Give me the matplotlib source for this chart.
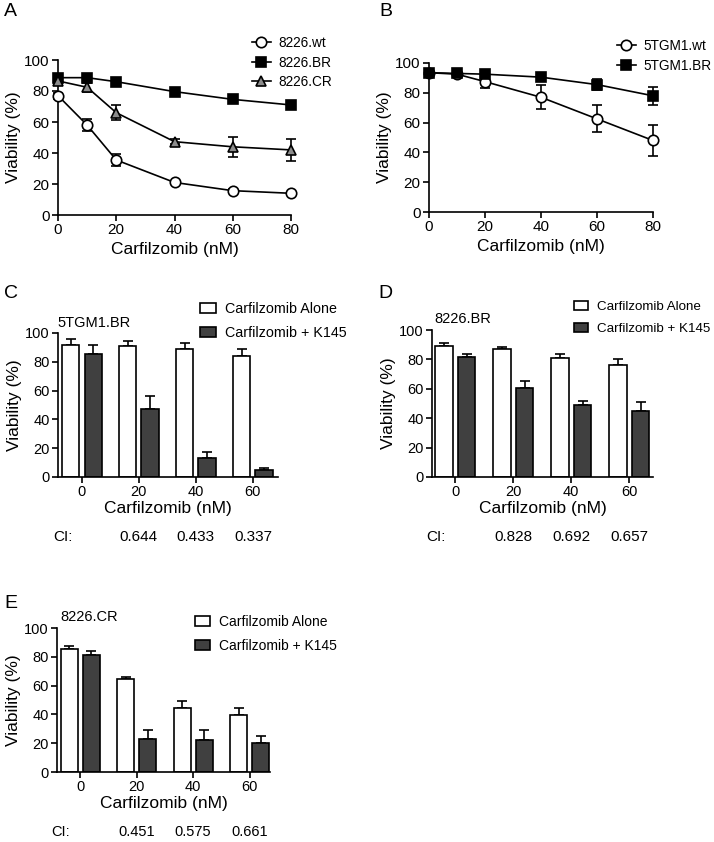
import matplotlib
matplotlib.use('Agg')
import matplotlib.pyplot as plt
from matplotlib.lines import Line2D
import numpy as np

plt.rcParams['font.family'] = ['Liberation Sans', 'DejaVu Sans']
plt.rcParams['axes.linewidth'] = 1.2

# ---- data ----
dose_line = [0, 10, 20, 40, 60, 80]

wt_8226 = [77, 58, 35.5, 21, 15.7, 14]
wt_8226_err = [2, 4, 4, 1, 1, 1]
br_8226 = [88.6, 88.6, 86, 79.6, 74.6, 71]
br_8226_err = [1, 1, 1, 1, 1, 1]
cr_8226 = [86.5, 82.4, 66, 47.3, 44, 42]
cr_8226_err = [1.5, 3, 5, 1.5, 6.5, 7]

wt_5tgm1 = [93.5, 92.5, 87.5, 77, 62.5, 48]
wt_5tgm1_err = [1, 1, 4, 8, 9, 10.5]
br_5tgm1 = [93.5, 93, 92.5, 90.5, 85.5, 78]
br_5tgm1_err = [1, 1, 1, 2, 3.5, 6]

dose_bar = ['0', '20', '40', '60']

c_alone = [92, 91.2, 89, 84]
c_alone_err = [3.5, 3.5, 4, 4.6]
c_k145 = [85.6, 47.2, 13.5, 4.6]
c_k145_err = [5.8, 9.3, 4, 1.6]
c_ci = ['0.644', '0.433', '0.337']

d_alone = [89.3, 86.8, 80.7, 76]
d_alone_err = [1.6, 1.4, 2.7, 4.5]
d_k145 = [81.8, 60.7, 49.3, 45]
d_k145_err = [1.8, 4.8, 2.3, 5.7]
d_ci = ['0.828', '0.692', '0.657']

e_alone = [85.3, 64.7, 44.2, 39.5]
e_alone_err = [1.9, 1.6, 5.1, 4.9]
e_k145 = [81.4, 22.6, 21.9, 20.2]
e_k145_err = [2.3, 6.5, 7, 4.7]
e_ci = ['0.451', '0.575', '0.661']

W, H = 714, 842
fig = plt.figure(figsize=(W / 100, H / 100), dpi=100)


def px_axes(left, top, right, bottom):
    return fig.add_axes([left / W, 1 - bottom / H, (right - left) / W, (bottom - top) / H])


def style(ax, ticksize):
    for s in ['top', 'right']:
        ax.spines[s].set_visible(False)
    ax.tick_params(labelsize=ticksize, width=1.2, length=4, pad=2)
    ax.set_ylim(0, 100)
    ax.set_yticks([0, 20, 40, 60, 80, 100])


def line_panel(ax, series, legend_xy):
    handles = []
    for y, err, marker, face, label in series:
        ax.errorbar(dose_line, y, yerr=err, fmt='-' + marker, color='black', mfc=face,
                    mec='black', ms=7.5, mew=1.2, lw=1.2, capsize=3.5, elinewidth=1.2,
                    capthick=1.2, clip_on=False, zorder=3)
        handles.append(Line2D([], [], color='black', lw=1.2, marker=marker, mfc=face,
                              mec='black', ms=7.5, mew=1.2, label=label))
    style(ax, 11)
    ax.set_xlim(0, 80)
    ax.set_xticks([0, 20, 40, 60, 80])
    ax.set_xlabel('Carfilzomib (nM)', fontsize=12.5, labelpad=3)
    ax.set_ylabel('Viability (%)', fontsize=12.5, labelpad=2)
    ax.legend(handles=handles, loc='upper left',
              bbox_to_anchor=(legend_xy[0] / W, 1 - legend_xy[1] / H),
              bbox_transform=fig.transFigure, frameon=False, fontsize=9.8,
              handlelength=1.4, handletextpad=0.55, labelspacing=0.42, borderpad=0)


def bar_panel(ax, alone, alone_err, k145, k145_err, ci, title, xlim, legend_xy, legsize,
              title_xy, ci_y, ci_size):
    x = np.arange(len(dose_bar))
    w = 0.3
    off = 0.195
    ax.bar(x - off, alone, w, color='white', edgecolor='black', lw=1.2,
           label='Carfilzomib Alone', zorder=2)
    ax.bar(x + off, k145, w, color='#404040', edgecolor='black', lw=1.2,
           label='Carfilzomib + K145', zorder=2)
    ax.errorbar(x - off, alone, yerr=[np.zeros(len(alone)), alone_err], fmt='none',
                ecolor='black', elinewidth=1.2, capsize=3.5, capthick=1.2, zorder=1)
    ax.errorbar(x + off, k145, yerr=[np.zeros(len(k145)), k145_err], fmt='none',
                ecolor='black', elinewidth=1.2, capsize=3.5, capthick=1.2, zorder=1)
    style(ax, 10.5)
    ax.set_xlim(*xlim)
    ax.set_xticks(x)
    ax.set_xticklabels(dose_bar)
    ax.set_xlabel('Carfilzomib (nM)', fontsize=12.5, labelpad=1)
    ax.set_ylabel('Viability (%)', fontsize=12.5, labelpad=2)
    ax.legend(loc='upper left', bbox_to_anchor=(legend_xy[0] / W, 1 - legend_xy[1] / H),
              bbox_transform=fig.transFigure, frameon=False, fontsize=legsize,
              handlelength=1.1, handleheight=0.75, handletextpad=0.65, labelspacing=0.7,
              borderpad=0)
    fig.text(title_xy[0] / W, 1 - title_xy[1] / H, title, fontsize=10.5, va='center')
    # combination index row under the x axis label
    tr = ax.get_xaxis_transform()
    ax.text(-0.34, ci_y, 'CI:', transform=tr, ha='center', va='center', fontsize=ci_size)
    for i, v in enumerate(ci):
        ax.text(x[i + 1], ci_y, v, transform=tr, ha='center', va='center', fontsize=ci_size)


# A
axA = px_axes(58, 60, 291, 215)
line_panel(axA, [(wt_8226, wt_8226_err, 'o', 'white', '8226.wt'),
                 (br_8226, br_8226_err, 's', 'black', '8226.BR'),
                 (cr_8226, cr_8226_err, '^', '#8c8c8c', '8226.CR')], (245, 29))
fig.text(4 / W, 1 - 11 / H, 'A', fontsize=14, va='center')

# B
axB = px_axes(429, 63, 653, 212)
line_panel(axB, [(wt_5tgm1, wt_5tgm1_err, 'o', 'white', '5TGM1.wt'),
                 (br_5tgm1, br_5tgm1_err, 's', 'black', '5TGM1.BR')], (610, 32))
fig.text(379 / W, 1 - 11 / H, 'B', fontsize=14, va='center')

# C
axC = px_axes(58, 333, 278, 477)
bar_panel(axC, c_alone, c_alone_err, c_k145, c_k145_err, c_ci, '5TGM1.BR',
          (-0.42, 3.44), (193, 295), 10.3, (57, 323), -0.42, 11)
fig.text(4 / W, 1 - 293 / H, 'C', fontsize=14, va='center')

# D
axD = px_axes(432, 330, 653, 477)
bar_panel(axD, d_alone, d_alone_err, d_k145, d_k145_err, d_ci, '8226.BR',
          (-0.40, 3.41), (567, 294), 9.6, (434, 319), -0.41, 11)
fig.text(378 / W, 1 - 293 / H, 'D', fontsize=14, va='center')

# E
axE = px_axes(57, 628, 270, 772)
bar_panel(axE, e_alone, e_alone_err, e_k145, e_k145_err, e_ci, '8226.CR',
          (-0.41, 3.36), (188, 608), 10, (60, 617), -0.42, 10.5)
fig.text(4 / W, 1 - 603 / H, 'E', fontsize=14, va='center')

fig.savefig('out.png', dpi=100)
